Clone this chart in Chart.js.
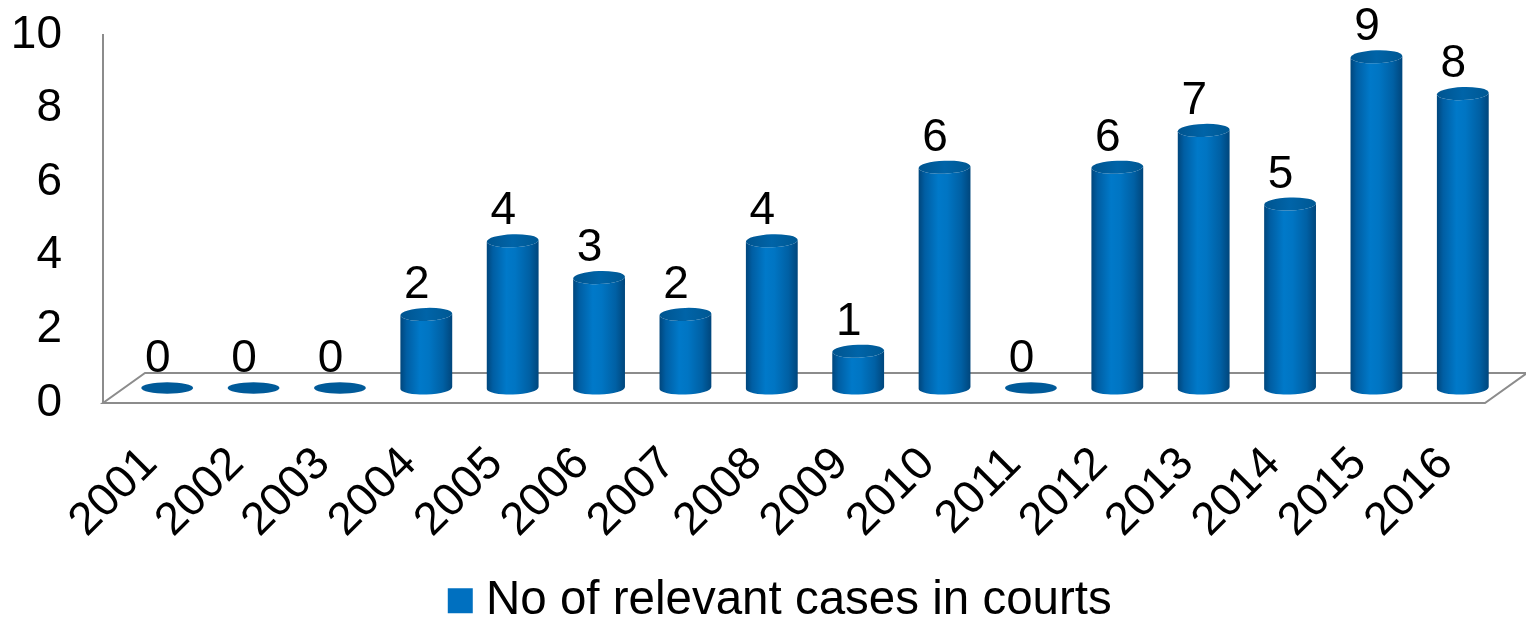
<!DOCTYPE html>
<html>
<head>
<meta charset="utf-8">
<title>No of relevant cases in courts</title>
<script src="https://cdn.jsdelivr.net/npm/chart.js@4.4.0/dist/chart.umd.min.js"></script>
<style>
  html, body { margin: 0; padding: 0; background: #ffffff; }
  #wrap { width: 1526px; height: 622px; }
</style>
</head>
<body>
<div id="wrap"><canvas id="chart" width="1526" height="622"></canvas></div>
<script>
// Data
const years = ['2001', '2002', '2003', '2004', '2005', '2006', '2007', '2008',
               '2009', '2010', '2011', '2012', '2013', '2014', '2015', '2016'];
const cases = [0, 0, 0, 2, 4, 3, 2, 4, 1, 6, 0, 6, 7, 5, 9, 8];
const yMin = 0;
const yMax = 10;
const yStep = 2;
const seriesName = 'No of relevant cases in courts';

const FONT = "'Liberation Sans', Arial, Helvetica, sans-serif";
const AXIS_GREY = '#8c8c8c';

// Depth of the floor plane (back edge offset); the cylinders sit half way in.
const DEPTH_X = 42;
const DEPTH_Y = -30;
const CAP_RY = 6.5;
const TILT = -0.035;

// Floor slab: parallelogram under the bars.
const floorPlugin = {
  id: 'floor3d',
  beforeDatasetsDraw(chart) {
    const { ctx, chartArea, scales } = chart;
    const yb = scales.y.getPixelForValue(0);
    ctx.save();
    ctx.beginPath();
    ctx.moveTo(chartArea.left, yb);
    ctx.lineTo(chartArea.right, yb);
    ctx.lineTo(chartArea.right + DEPTH_X, yb + DEPTH_Y);
    ctx.lineTo(chartArea.left + DEPTH_X, yb + DEPTH_Y);
    ctx.closePath();
    ctx.fillStyle = '#ffffff';
    ctx.fill();
    ctx.lineWidth = 2;
    ctx.strokeStyle = AXIS_GREY;
    ctx.stroke();
    ctx.restore();
  }
};

// Cylinders and value labels, drawn from the bar elements' scale positions.
const cylinderPlugin = {
  id: 'cylinders',
  beforeDatasetDraw() {
    return false; // flat bars are replaced by cylinders below
  },
  afterDatasetsDraw(chart) {
    const { ctx } = chart;
    const meta = chart.getDatasetMeta(0);
    const values = chart.data.datasets[0].data;
    const dx = DEPTH_X / 2;
    const dy = DEPTH_Y / 2;
    ctx.save();
    meta.data.forEach((bar, i) => {
      const v = values[i];
      const cx = bar.x + dx;
      const rx = bar.width / 2;
      const baseY = bar.base + dy;
      const topY = bar.y + dy;
      if (v > 0) {
        const g = ctx.createLinearGradient(cx - rx, 0, cx + rx, 0);
        g.addColorStop(0.00, '#00467c');
        g.addColorStop(0.12, '#005ea3');
        g.addColorStop(0.38, '#0079c9');
        g.addColorStop(0.55, '#0075c3');
        g.addColorStop(0.82, '#0060a4');
        g.addColorStop(1.00, '#00467c');
        ctx.beginPath();
        ctx.moveTo(cx - rx, topY);
        ctx.lineTo(cx - rx, baseY);
        ctx.ellipse(cx, baseY, rx, CAP_RY, TILT, Math.PI, 0, true);
        ctx.lineTo(cx + rx, topY);
        ctx.ellipse(cx, topY, rx, CAP_RY, TILT, 0, Math.PI, false);
        ctx.closePath();
        ctx.fillStyle = g;
        ctx.fill();

        const cg = ctx.createLinearGradient(cx - rx, 0, cx + rx, 0);
        cg.addColorStop(0, '#00548f');
        cg.addColorStop(0.5, '#0064a8');
        cg.addColorStop(1, '#005893');
        ctx.beginPath();
        ctx.ellipse(cx, topY, rx, CAP_RY, TILT, 0, Math.PI * 2);
        ctx.fillStyle = cg;
        ctx.fill();
      } else {
        ctx.beginPath();
        ctx.ellipse(cx, baseY, rx, CAP_RY - 0.8, 0, 0, Math.PI * 2);
        ctx.fillStyle = '#005a99';
        ctx.fill();
      }

      // value label above the cylinder
      ctx.fillStyle = '#000000';
      ctx.font = '46px ' + FONT;
      ctx.textAlign = 'center';
      ctx.textBaseline = 'alphabetic';
      ctx.fillText(String(v), bar.x + dx * 0.55, topY - CAP_RY - 10);
    });
    ctx.restore();
  }
};

// Legend sits slightly left of the plot centre.
const legendShift = {
  id: 'legendShift',
  afterLayout(chart) {
    const lg = chart.legend;
    if (lg) {
      lg.left -= 9;
      lg.right -= 9;
    }
  }
};

new Chart(document.getElementById('chart'), {
  type: 'bar',
  data: {
    labels: years,
    datasets: [{
      label: seriesName,
      data: cases,
      backgroundColor: '#0070c0',
      borderWidth: 0,
      categoryPercentage: 1.0,
      barPercentage: 0.6
    }]
  },
  options: {
    responsive: false,
    devicePixelRatio: 1,
    animation: false,
    layout: { padding: { left: 0, right: 41, top: 35, bottom: 0 } },
    plugins: {
      legend: {
        position: 'bottom',
        fullSize: false,
        maxHeight: 45,
        labels: {
          usePointStyle: true,
          pointStyle: 'rect',
          boxWidth: 4,
          boxHeight: 25,
          padding: 0,
          color: '#000000',
          font: { family: FONT, size: 47.5 }
        }
      },
      tooltip: { enabled: false }
    },
    scales: {
      x: {
        grid: { display: false, drawTicks: false },
        border: { display: false },
        ticks: {
          autoSkip: false,
          minRotation: 45,
          maxRotation: 45,
          padding: 34,
          labelOffset: 4,
          color: '#000000',
          font: { family: FONT, size: 46 }
        },
        afterFit(scale) { scale.height = 174; }
      },
      y: {
        min: yMin,
        max: yMax,
        grid: { display: false, drawTicks: false },
        border: { display: true, color: AXIS_GREY, width: 2 },
        ticks: {
          stepSize: yStep,
          padding: 41,
          color: '#000000',
          font: { family: FONT, size: 46 }
        },
        afterFit(scale) {
          scale.width = 103;
          scale.paddingTop = 28;
          scale.paddingBottom = 28;
        }
      }
    }
  },
  plugins: [floorPlugin, cylinderPlugin, legendShift]
});
</script>
</body>
</html>
